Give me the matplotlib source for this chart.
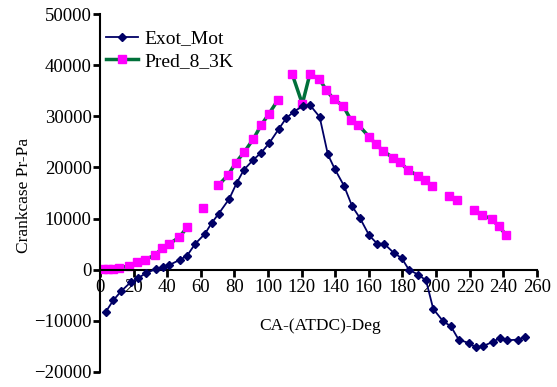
import numpy as np
import matplotlib
matplotlib.use("Agg")
import matplotlib.pyplot as plt

plt.rcParams['font.family'] = ['Liberation Serif', 'DejaVu Serif']

# Exot_Mot (measured)
exot_ca = [3.4, 7.9, 12.5, 18.2, 22.8, 27.4, 33.3, 37.3, 41.2, 47.6, 51.8, 56.7,
           62.5, 66.4, 70.6, 76.9, 81.3, 85.6, 91.2, 96.0, 100.7, 106.3, 110.8,
           115.4, 120.8, 125.1, 130.7, 135.6, 139.6, 145.2, 150.1, 154.7, 160.2,
           165.0, 169.1, 174.9, 179.5, 183.8, 189.4, 194.0, 198.3, 204.2, 208.8,
           213.4, 219.3, 223.5, 227.7, 233.6, 238.0, 242.3, 248.5, 252.8]
exot_pa = [-8260, -6000, -4230, -2470, -1630, -650, 130, 520, 910, 1950, 2730, 5080,
           7030, 9110, 10940, 13850, 16930, 19530, 21480, 22910, 24740, 27480, 29630,
           30920, 32030, 32130, 29880, 22530, 19760, 16410, 12370, 10090, 6700,
           5080, 5080, 3260, 2280, 0, -980, -2090, -7680, -10090, -11070,
           -13670, -14320, -15170, -14980, -14120, -13340, -13810, -13670, -13220]

# Pred_8_3K (predicted) - nan marks where the line is broken
pred_ca = [2.0, 4.9, 7.5, 11.5, 17.4, 22.2, 26.8, 32.7, 36.9, 41.2, 47.2, 51.9, np.nan,
           61.5, np.nan,
           70.4, 76.3, 80.9, 85.7, 91.2, 96.0, 100.4, 105.9, np.nan,
           114.4, 120.4, 124.9, 130.5, 134.6, 139.0, 144.7, 149.3, 153.7, 160.0, 164.0,
           168.2, 174.1, 178.5, 183.0, 189.0, 193.3, 197.7, np.nan,
           207.8, 212.6, np.nan,
           222.5, 227.1, 233.0, 237.4, 241.5]
pred_pa = [190, 190, 190, 330, 780, 1430, 1950, 2860, 4160, 5020, 6380, 8270, np.nan,
           12050, np.nan,
           16470, 18550, 20960, 22950, 25530, 28320, 30410, 33200, np.nan,
           38220, 32420, 38280, 37300, 35160, 33370, 32030, 29300, 28320, 26040, 24610,
           23300, 21940, 21090, 19530, 18420, 17580, 16280, np.nan,
           14320, 13670, np.nan,
           11590, 10740, 9900, 8460, 6840]

fig = plt.figure(figsize=(5.57, 3.87), dpi=100)
ax = fig.add_axes([0.1795, 0.0388, 0.7845, 0.925])

ax.plot(exot_ca, exot_pa, color='#000066', lw=1.3, marker='D', ms=3.6,
        mfc='#000066', mec='#000066', label='Exot_Mot', zorder=3)
ax.plot(pred_ca, pred_pa, color='#00703a', lw=2.5, marker='s', ms=5.2,
        mfc='#ff00ff', mec='#ff00ff', label='Pred_8_3K', zorder=2)

ax.set_xlim(0, 260)
ax.set_ylim(-20000, 50000)
ax.set_xticks(np.arange(0, 261, 20))
ax.set_yticks(np.arange(-20000, 50001, 10000))

ax.spines['top'].set_visible(False)
ax.spines['right'].set_visible(False)
ax.spines['bottom'].set_position(('data', 0))
ax.spines['left'].set_linewidth(1.5)
ax.spines['bottom'].set_linewidth(1.5)
ax.tick_params(axis='y', direction='out', length=5, width=2, labelsize=13.5, pad=1)
ax.tick_params(axis='x', direction='out', length=5, width=2, labelsize=13.5, pad=2)

ax.set_xlabel('CA-(ATDC)-Deg', fontsize=12.5)
ax.xaxis.set_label_coords(0.503, 0.152)
ax.set_ylabel('Crankcase Pr-Pa', fontsize=12.5)
ax.yaxis.set_label_coords(-0.155, 0.494)

leg = ax.legend(loc='upper left', bbox_to_anchor=(-0.012, 0.988), frameon=False,
                fontsize=14, handlelength=1.65, handletextpad=0.3,
                labelspacing=0.25, borderaxespad=0.2)

fig.savefig('out.png', dpi=100)
